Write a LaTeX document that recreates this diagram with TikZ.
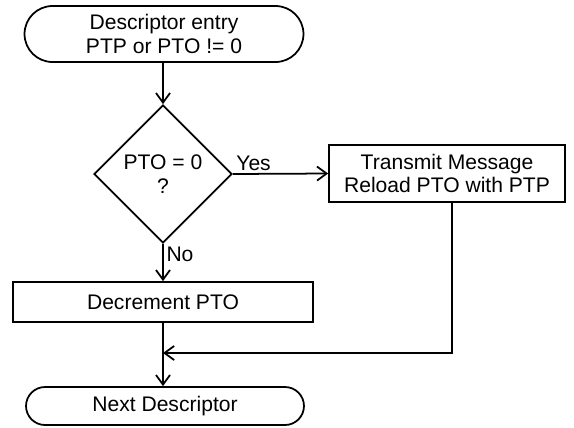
\documentclass[tikz,border=0pt]{standalone}
\usepackage{fontspec}
\setmainfont{Liberation Sans}
\usetikzlibrary{arrows.meta,shapes.geometric,shapes.misc,positioning}

\begin{document}
\begin{tikzpicture}[
    x=0.02cm, y=-0.02cm,
    term/.style={draw, rounded rectangle, rounded rectangle arc length=180, align=center, line width=1pt, inner sep=0pt},
    box/.style={draw, rectangle, align=center, line width=1pt, inner sep=0pt},
    dec/.style={draw, diamond, aspect=1, align=center, line width=1pt, inner sep=0pt, minimum width=2.76cm, minimum height=2.76cm},
    arr/.style={-{Straight Barb[length=5.5pt,width=8pt]}, line width=1pt},
    lbl/.style={inner sep=1.5pt},
    font=\fontsize{12}{13.5}\selectfont
]
\useasboundingbox (0,0) rectangle (574,427);
\node[term, minimum width=5.58cm, minimum height=1.12cm] (start) at (164,34) {Descriptor entry\\PTP or PTO != 0};
\node[dec] (pto) at (163,174) {PTO = 0\\?};
\node[box, minimum width=4.72cm, minimum height=1.14cm] (tx) at (447,173.5) {Transmit Message\\Reload PTO with PTP};
\node[box, minimum width=6.0cm, minimum height=0.8cm] (decr) at (163,302) {Decrement PTO};
\node[term, minimum width=5.56cm, minimum height=0.76cm] (next) at (165,406) {Next Descriptor};
\coordinate (mrg) at (163,353);

\draw[arr] (start.south -| pto.north) -- (pto.north);
\draw[arr] (pto.east) -- node[lbl, pos=0, anchor=south west] {Yes} (tx.west);
\draw[arr] (pto.south) -- node[lbl, pos=0, anchor=north west] {No} (decr.north -| pto.south);
\draw[arr] (decr.south -| pto.south) -- (next.north -| pto.south);
\draw[arr] ([xshift=3]tx.south) |- (mrg);
\end{tikzpicture}
\end{document}
